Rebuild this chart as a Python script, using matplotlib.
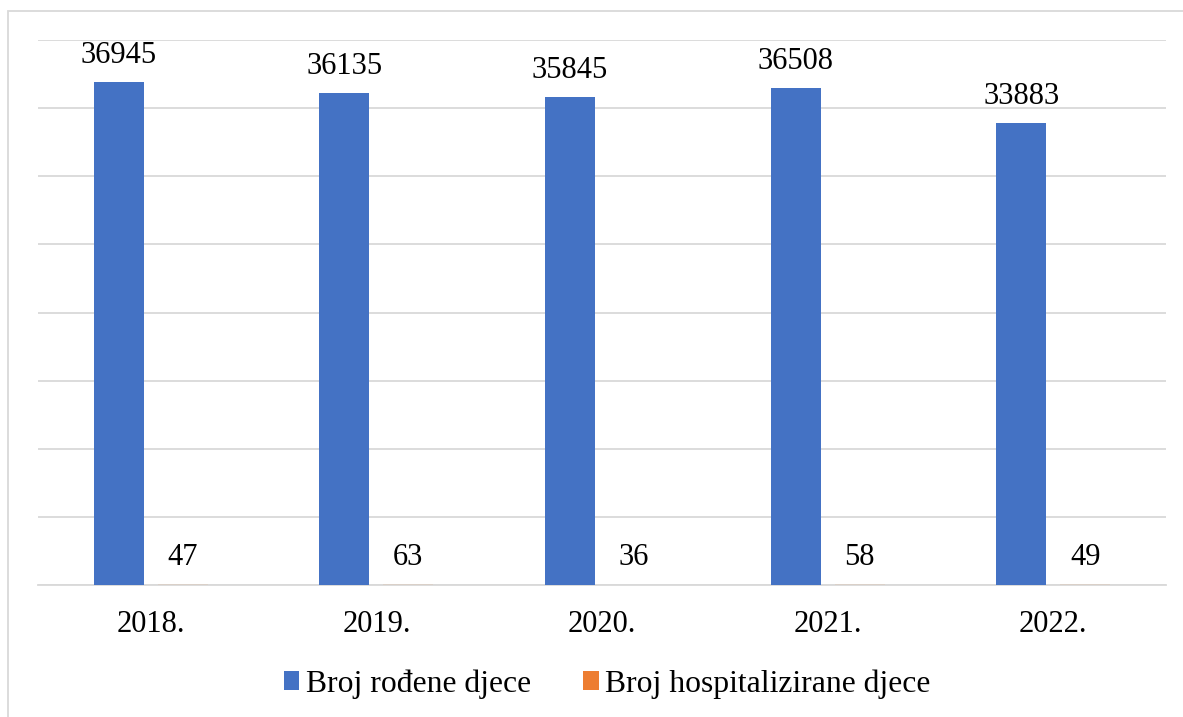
import numpy as np
import matplotlib.pyplot as plt
from matplotlib.patches import Rectangle

years = ["2018.", "2019.", "2020.", "2021.", "2022."]
rodjene = [36945, 36135, 35845, 36508, 33883]
hospitalizirane = [47, 63, 36, 58, 49]

plt.rcParams['font.family'] = ['Liberation Serif', 'DejaVu Serif']

fig = plt.figure(figsize=(11.83, 7.17), dpi=100)
ax = fig.add_axes([38/1183, 1 - 585/717, (1166-38)/1183, (585-40)/717])

x = np.arange(len(years))
w = 0.222
off = 0.142
b1 = ax.bar(x - off, rodjene, w, color='#4472C4', label='Broj rođene djece', zorder=3)
b2 = ax.bar(x + off, hospitalizirane, w, color='#ED7D31', label='Broj hospitalizirane djece', zorder=2)

# labels sit ~19px above the bar top (baseline)
for xi, v in zip(x, rodjene):
    ax.annotate(str(v), (xi - off, v), xytext=(0, 13.7), textcoords='offset points',
                ha='center', va='baseline', fontsize=22)
for xi, v in zip(x, hospitalizirane):
    ax.annotate(str(v), (xi + off, v), xytext=(0, 13.7), textcoords='offset points',
                ha='center', va='baseline', fontsize=22)

ax.set_xlim(-0.5, 4.5)
ax.set_ylim(0, 40000)
ax.set_yticks(np.arange(0, 40001, 5000))
ax.set_yticklabels([])
ax.tick_params(axis='y', length=0)
ax.yaxis.grid(True, color='#d9d9d9', linewidth=1.3)
ax.set_axisbelow(True)
ax.set_xticks(x)
ax.set_xticklabels(years, fontsize=22)
ax.tick_params(axis='x', length=0, pad=18)
for s in ['top', 'right', 'left']:
    ax.spines[s].set_visible(False)
ax.spines['bottom'].set_color('#d9d9d9')
ax.spines['bottom'].set_linewidth(1.3)
ax.spines['bottom'].set_zorder(2.5)

fig.legend(handles=[b1, b2], loc='center', bbox_to_anchor=(607/1183, 1 - 684/717), ncol=2,
           frameon=False, fontsize=22.8, handlelength=0.5, handleheight=0.5,
           handletextpad=0.2, columnspacing=1.64)

fig.patches.append(Rectangle((8/1183, -0.1), 1.2, 1.1 - 11/717, transform=fig.transFigure,
                             fill=False, edgecolor='#d9d9d9', linewidth=1.3))

fig.savefig('out.png', dpi=100)
